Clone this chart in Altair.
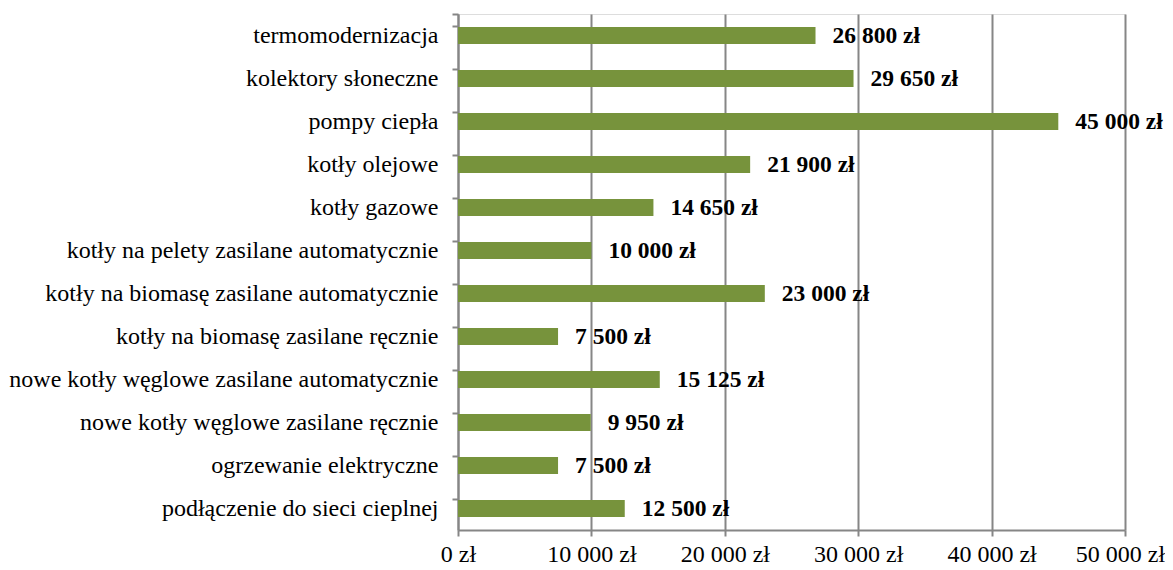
import altair as alt
import pandas as pd

categories = [
    "termomodernizacja",
    "kolektory słoneczne",
    "pompy ciepła",
    "kotły olejowe",
    "kotły gazowe",
    "kotły na pelety zasilane automatycznie",
    "kotły na biomasę zasilane automatycznie",
    "kotły na biomasę zasilane ręcznie",
    "nowe kotły węglowe zasilane automatycznie",
    "nowe kotły węglowe zasilane ręcznie",
    "ogrzewanie elektryczne",
    "podłączenie do sieci cieplnej",
]
values = [26800, 29650, 45000, 21900, 14650, 10000, 23000, 7500, 15125, 9950, 7500, 12500]
x_ticks = [0, 10000, 20000, 30000, 40000, 50000]

df = pd.DataFrame({
    "kategoria": categories,
    "koszt": values,
    "etykieta": [f"{v:,}".replace(",", " ") + " zł" for v in values],
})

FONT = "Liberation Serif"
GRAY = "#868686"
GREEN = "#77933C"

y_enc = alt.Y(
    "kategoria:N",
    sort=categories,
    title=None,
    scale=alt.Scale(paddingInner=0.6, paddingOuter=0.3),
    axis=alt.Axis(
        domainColor=GRAY, domainWidth=2,
        tickColor=GRAY, tickWidth=2, tickSize=6,
        bandPosition=0, tickExtra=True,
        labelFont=FONT, labelFontSize=24, labelColor="black",
        labelPadding=14, labelLimit=500, grid=False,
    ),
)
x_enc = alt.X(
    "koszt:Q",
    title=None,
    scale=alt.Scale(domain=[0, 50000], nice=False),
    axis=alt.Axis(
        values=x_ticks,
        labelExpr="replace(format(datum.value, ',d'), ',', ' ') + ' zł'",
        domainColor=GRAY, domainWidth=2,
        tickColor=GRAY, tickWidth=2, tickSize=6,
        grid=True, gridColor=GRAY, gridWidth=2,
        labelFont=FONT, labelFontSize=24, labelColor="black",
        labelPadding=6, labelFlush=False,
        labelOffset={"condition": {"test": "datum.value >= 50000", "value": -5}, "value": 0},
    ),
)

bars = alt.Chart(df).mark_bar(color=GREEN).encode(y=y_enc, x=x_enc)
text = alt.Chart(df).mark_text(
    align="left", baseline="middle", dx=17, font=FONT, fontSize=23.5,
    fontWeight="bold", color="black",
).encode(y=alt.Y("kategoria:N", sort=categories), x="koszt:Q", text="etykieta:N")

chart = (bars + text).properties(
    width=667, height=516,
    autosize=alt.AutoSizeParams(type="none"),
    padding={"left": 450, "top": 6, "right": 40, "bottom": 40},
).configure_view(stroke=None).configure(background="white")

chart.save("out.html", embed_options={"renderer": "svg", "actions": False})
